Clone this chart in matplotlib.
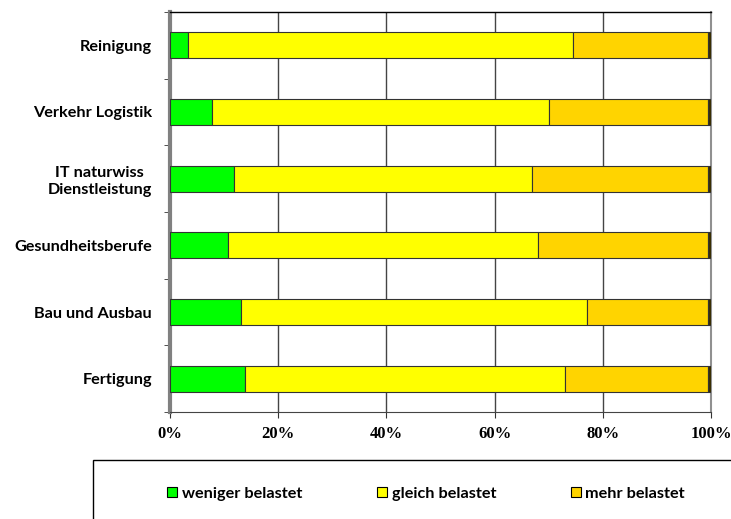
import matplotlib
matplotlib.use("Agg")
import matplotlib.pyplot as plt
from matplotlib.patches import Rectangle, Patch
import numpy as np

# ── data (percent), top to bottom ──
categories = ["Reinigung", "Verkehr Logistik", "IT naturwiss\nDienstleistung",
              "Gesundheitsberufe", "Bau und Ausbau", "Fertigung"]
weniger = [3.3, 7.7, 11.9, 10.7, 13.1, 13.9]
gleich = [71.2, 62.3, 55.1, 57.4, 64.0, 59.2]
mehr = [24.9, 29.4, 32.4, 31.3, 22.3, 26.3]
keine = [0.6, 0.6, 0.6, 0.6, 0.6, 0.6]

series = [("weniger belastet", weniger, "#00FF00"),
          ("gleich belastet", gleich, "#FFFF00"),
          ("mehr belastet", mehr, "#FFD400"),
          (None, keine, "#3A2E00")]

W, H = 731, 519
fig = plt.figure(figsize=(W / 100, H / 100), dpi=100)
ax = fig.add_axes([170 / W, 1 - 412 / H, (711 - 170) / W, (412 - 12) / H])

y = np.arange(len(categories))
left = np.zeros(len(categories))
for name, vals, col in series:
    ax.barh(y, vals, left=left, height=0.39, color=col,
            edgecolor="#333333", linewidth=0.8, zorder=3)
    left += np.array(vals)

ax.set_xlim(0, 100)
ax.set_ylim(len(categories) - 0.5, -0.5)

ax.set_xticks(np.arange(0, 101, 20))
ax.set_xticklabels([f"{v}%" for v in range(0, 101, 20)],
                   family="Liberation Serif", fontweight="bold", fontsize=12)
ax.tick_params(axis="x", length=4, pad=6, color="#333333")
ax.grid(axis="x", color="#444444", linewidth=1.0, zorder=0)

ax.set_yticks(y)
ax.set_yticklabels(categories, family="Lato", fontweight="bold",
                   fontsize=11.7, linespacing=1.25)
for lbl in ax.get_yticklabels():
    lbl.set_multialignment("center")
ax.tick_params(axis="y", length=0, pad=13)
ax.set_yticks(np.arange(-0.5, len(categories), 1), minor=True)
ax.tick_params(axis="y", which="minor", length=4, color="#333333")

ax.spines["left"].set_color("#808080")
ax.spines["left"].set_linewidth(3)
ax.spines["top"].set_color("black")
ax.spines["top"].set_linewidth(1)
ax.spines["right"].set_color("#909090")
ax.spines["right"].set_linewidth(1.5)
ax.spines["bottom"].set_color("#444444")

# legend box running off the figure edge
fig.patches.append(Rectangle((93 / W, -0.1), 0.9, 0.1 + (519 - 460) / H,
                             transform=fig.transFigure, fill=False,
                             edgecolor="black", linewidth=1))
handles = [Patch(facecolor=c, edgecolor="black", linewidth=0.8, label=n)
           for n, _, c in series if n]
fig.legend(handles=handles, loc="center left", ncol=3, frameon=False,
           bbox_to_anchor=(152.5 / W, 1 - 494 / H), handlelength=0.6,
           handleheight=0.6, handletextpad=0.3, columnspacing=4.6,
           prop={"family": "Lato", "weight": "bold", "size": 11.7})

fig.savefig("out.png", dpi=100)
